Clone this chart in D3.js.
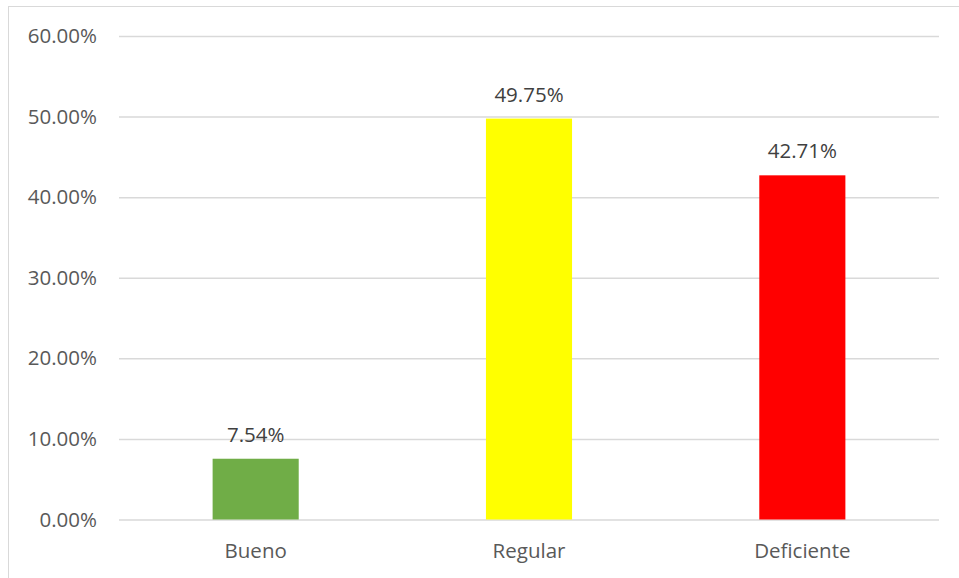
<!DOCTYPE html>
<html><head><meta charset="utf-8">
<script src="https://cdn.jsdelivr.net/npm/d3@7"></script>
<style>body{margin:0;background:#fff}svg{display:block}</style>
</head><body>
<script>
const categories = ["Bueno", "Regular", "Deficiente"];
const values = [0.0754, 0.4975, 0.4271];
const barColors = ["#70ad47", "#ffff00", "#ff0000"];
const yTicks = [0, 0.1, 0.2, 0.3, 0.4, 0.5, 0.6];

(function () {
const W = 959, H = 578;
const svg = d3.select("body").append("svg").attr("width", W).attr("height", H);
svg.append("rect").attr("width", W).attr("height", H).attr("fill", "#fff");
svg.append("line").attr("x1", 8.5).attr("x2", 8.5).attr("y1", 6).attr("y2", H).attr("stroke", "#d9d9d9").attr("stroke-width", 1);
svg.append("line").attr("x1", 8).attr("x2", W).attr("y1", 6.5).attr("y2", 6.5).attr("stroke", "#d9d9d9").attr("stroke-width", 1);

const pL = 119, pR = 939, pT = 36, pB = 519.5;
const x = d3.scaleBand().domain(categories).range([pL, pR]).paddingInner(0.685).paddingOuter(0.3425);
const y = d3.scaleLinear().domain([0, 0.6]).range([pB, pT]);
const font = "'Open Sans', sans-serif";
const fs = "20.5px";
const fmt = d3.format(".2%");

const yAxis = d3.axisLeft(y).tickValues(yTicks).tickFormat(fmt).tickSize(-(pR - pL)).tickPadding(22);
const gy = svg.append("g").attr("transform", `translate(${pL},0)`).call(yAxis);
gy.select(".domain").remove();
gy.selectAll(".tick line").attr("stroke", "#d9d9d9").attr("stroke-width", 1.5);
gy.selectAll(".tick text").attr("fill", "#595959").style("font-family", font).style("font-size", fs);

svg.selectAll("rect.bar").data(categories).join("rect").attr("class", "bar")
  .attr("x", d => x(d)).attr("width", x.bandwidth())
  .attr("y", (d, i) => y(values[i])).attr("height", (d, i) => y(0) - y(values[i]))
  .attr("fill", (d, i) => barColors[i]);

svg.selectAll("text.val").data(categories).join("text").attr("class", "val")
  .attr("x", d => x(d) + x.bandwidth() / 2).attr("y", (d, i) => y(values[i]) - 17)
  .attr("text-anchor", "middle").attr("fill", "#404040")
  .style("font-family", font).style("font-size", fs)
  .text((d, i) => fmt(values[i]));

const xAxis = d3.axisBottom(x).tickSize(0).tickPadding(24);
const gx = svg.append("g").attr("transform", `translate(0,${pB})`).call(xAxis);
gx.select(".domain").remove();
gx.selectAll(".tick text").attr("fill", "#595959").style("font-family", font).style("font-size", fs);
})();
</script>
</body></html>
